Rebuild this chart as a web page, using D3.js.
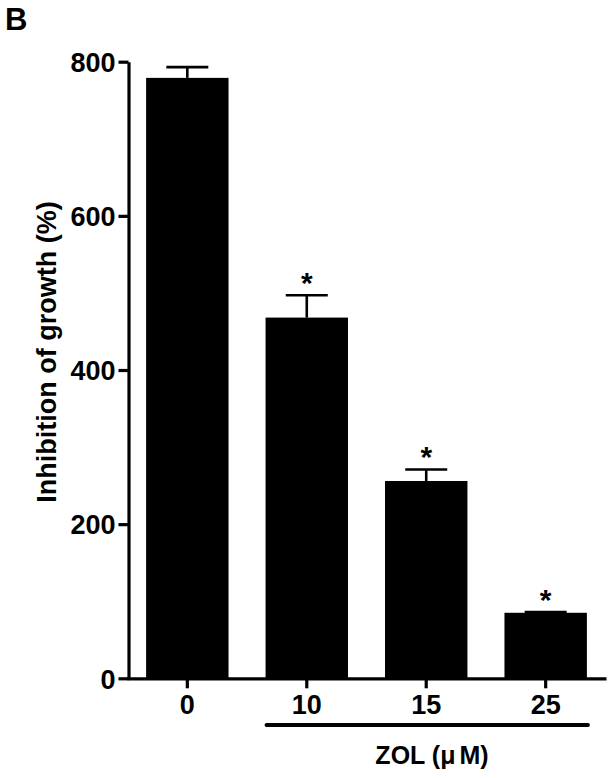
<!DOCTYPE html>
<html>
<head>
<meta charset="utf-8">
<script src="https://cdn.jsdelivr.net/npm/d3@7"></script>
<style>
  body { margin: 0; background: #fff; }
  text { font-family: "Liberation Sans", Arial, sans-serif; font-weight: bold; }
</style>
</head>
<body>
<svg id="chart" width="613" height="778"></svg>
<script>
// values
const doses = ["0", "10", "15", "25"];
const means = [779, 468, 256, 85];
const errors = [14, 29, 15, 1];
const marked = [false, true, true, true]; // * = significant
const yTicks = [0, 200, 400, 600, 800];

const width = 613, height = 778;
const svg = d3.select("#chart");

const y = d3.scaleLinear().domain([0, 800]).range([678.3, 61.7]);
const x = d3.scaleBand().domain(doses).range([127, 606])
    .paddingInner(0.31).paddingOuter(0.16);

const data = doses.map((d, i) => ({dose: d, mean: means[i], err: errors[i], star: marked[i]}));

// panel letter
svg.append("text")
    .attr("x", 5).attr("y", 30)
    .style("font-size", "31px")
    .text("B");

// bars
svg.append("g").selectAll("rect")
    .data(data)
    .enter().append("rect")
    .attr("x", d => x(d.dose))
    .attr("y", d => y(d.mean))
    .attr("width", x.bandwidth())
    .attr("height", d => y(0) - y(d.mean))
    .attr("fill", "#000");

// error bars (upper only)
const eb = svg.append("g").attr("stroke", "#000").attr("stroke-width", 2.6);
eb.selectAll("line.v")
    .data(data)
    .enter().append("line")
    .attr("x1", d => x(d.dose) + x.bandwidth() / 2)
    .attr("x2", d => x(d.dose) + x.bandwidth() / 2)
    .attr("y1", d => y(d.mean))
    .attr("y2", d => y(d.mean + d.err));
eb.selectAll("line.h")
    .data(data)
    .enter().append("line")
    .attr("x1", d => x(d.dose) + x.bandwidth() / 2 - 21)
    .attr("x2", d => x(d.dose) + x.bandwidth() / 2 + 21)
    .attr("y1", d => y(d.mean + d.err))
    .attr("y2", d => y(d.mean + d.err));

// asterisks
svg.append("g").selectAll("text")
    .data(data.filter(d => d.star))
    .enter().append("text")
    .attr("x", d => x(d.dose) + x.bandwidth() / 2)
    .attr("y", d => y(d.mean + d.err) - 2)
    .attr("text-anchor", "middle")
    .style("font-size", "30px")
    .text("*");

// y axis
const yAxis = svg.append("g")
    .attr("transform", "translate(128.5,0)")
    .call(d3.axisLeft(y).tickValues(yTicks).tickSize(10).tickSizeOuter(0).tickPadding(3));
yAxis.select(".domain").attr("stroke-width", 3.2);
yAxis.selectAll(".tick line").attr("stroke-width", 3.2);
yAxis.selectAll(".tick text")
    .style("font-size", "27px")
    .attr("dy", "0.36em")
    .attr("fill", "#000");

// x axis
const xAxis = svg.append("g")
    .attr("transform", "translate(0," + y(0) + ")")
    .call(d3.axisBottom(x).tickSize(10).tickSizeOuter(0).tickPadding(7));
xAxis.select(".domain").attr("stroke-width", 3.2);
xAxis.selectAll(".tick line").attr("stroke-width", 3.2);
xAxis.selectAll(".tick text")
    .style("font-size", "27px")
    .attr("fill", "#000");

// y label
svg.append("text")
    .attr("transform", "translate(56,352) rotate(-90)")
    .attr("text-anchor", "middle")
    .style("font-size", "27px")
    .text("Inhibition of growth (%)");

// ZOL bracket under treated groups
svg.append("line")
    .attr("x1", x("10") + 1)
    .attr("x2", x("25") + x.bandwidth() + 1)
    .attr("y1", 725).attr("y2", 725)
    .attr("stroke", "#000")
    .attr("stroke-width", 4)
    .attr("stroke-linecap", "round");

const zol = svg.append("text")
    .attr("x", 432).attr("y", 764)
    .attr("text-anchor", "middle")
    .style("font-size", "25px");
zol.append("tspan").text("ZOL (\u03bc");
zol.append("tspan").attr("dx", 4).text("M)");
</script>
</body>
</html>
